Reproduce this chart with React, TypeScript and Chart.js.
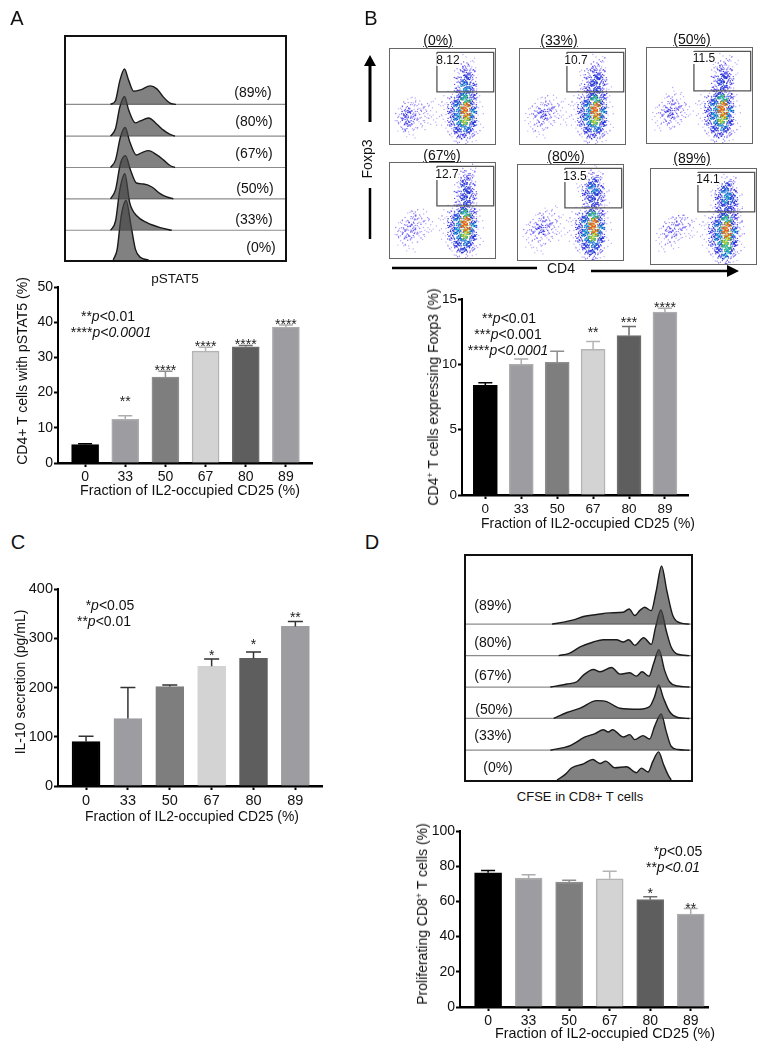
import React, { useEffect, useRef } from "react";
import { Chart, registerables } from "chart.js";

Chart.register(...registerables);

const FONT = '"Liberation Sans", Arial, sans-serif';

// ---------- bar panels ----------
const categories = ["0", "33", "50", "67", "80", "89"];
const barFill = ["#000000", "#9c9ca1", "#7e7e7e", "#d3d3d3", "#5e5e5e", "#9c9ca1"];
const barEdge = ["#000000", "#adadb0", "#8e8e8e", "#b4b4b4", "#6e6e6e", "#adadb0"];

const pstat5Values = [5.2, 12.4, 24.4, 31.8, 33, 38.6];
const pstat5Upper = [5.5, 13.4, 26.1, 32.9, 33.4, 39.2];
const pstat5Stars = ["", "**", "****", "****", "****", "****"];
const pstat5StarAt = [0, 18.6, 27.4, 34, 34.8, 40.5];

const foxp3Values = [8.4, 10, 10.15, 11.15, 12.2, 14];
const foxp3Upper = [8.6, 10.4, 11, 11.75, 12.9, 14.3];
const foxp3Stars = ["", "", "", "**", "***", "****"];
const foxp3StarAt = [0, 0, 0, 12.7, 13.5, 14.6];

const il10Values = [90, 137, 202, 243, 259, 324];
const il10Upper = [101, 200, 205, 258, 272, 334];
const il10Stars = ["", "", "", "*", "*", "**"];
const il10StarAt = [0, 0, 0, 273, 295, 350];

const prolifValues = [76.3, 73.3, 71, 72.8, 61, 52.8];
const prolifUpper = [77.5, 75.2, 72, 77.2, 62.7, 56];
const prolifStars = ["", "", "", "", "*", "**"];
const prolifStarAt = [0, 0, 0, 0, 66.3, 58.3];

// ---------- pSTAT5 histograms (channel, count above the lane's baseline) ----------
const pstatBase0 = 0, pstatBase33 = 90, pstatBase50 = 185, pstatBase67 = 280, pstatBase80 = 375, pstatBase89 = 471;
const pstat89x = [135, 150, 163, 177, 190, 205, 225, 255, 275, 295, 315, 333];
const pstat89h = [0, 12, 72, 107, 72, 40, 44, 56, 47, 22, 4, 0];
const pstat80x = [135, 150, 163, 177, 190, 210, 225, 250, 275, 295, 315, 330];
const pstat80h = [0, 23, 88, 120, 78, 40, 46, 55, 36, 18, 5, 0];
const pstat67x = [135, 150, 165, 179, 193, 213, 230, 250, 275, 295, 315, 330];
const pstat67h = [0, 23, 93, 121, 78, 38, 45, 51, 38, 23, 6, 0];
const pstat50x = [135, 150, 165, 180, 195, 213, 235, 260, 285, 305, 325];
const pstat50h = [0, 28, 108, 131, 88, 48, 45, 36, 16, 6, 0];
const pstat33x = [135, 150, 163, 178, 193, 215, 245, 285, 320];
const pstat33h = [0, 28, 123, 171, 83, 43, 23, 8, 0];
const pstat0x = [143, 155, 167, 182, 197, 210, 225, 250];
const pstat0h = [0, 33, 133, 180, 103, 33, 8, 0];

// ---------- CFSE histograms ----------
const cfseBase0 = 0, cfseBase33 = 90, cfseBase50 = 186, cfseBase67 = 281, cfseBase80 = 376, cfseBase89 = 471;
const cfse89x = [260, 295, 325, 355, 395, 435, 475, 493, 510, 525, 540, 560, 575, 591, 607, 625, 650, 675];
const cfse89h = [0, 6, 13, 23, 29, 34, 36, 46, 26, 41, 51, 41, 101, 176, 101, 26, 3, 0];
const cfse80x = [280, 310, 345, 385, 415, 455, 475, 492, 510, 537, 560, 573, 589, 605, 620, 640, 675];
const cfse80h = [0, 6, 26, 41, 48, 48, 41, 48, 31, 54, 34, 86, 138, 76, 26, 4, 0];
const cfse67x = [255, 305, 335, 355, 385, 405, 440, 465, 495, 515, 532, 553, 567, 583, 600, 615, 640, 675];
const cfse67h = [0, 9, 16, 36, 53, 46, 59, 39, 43, 33, 46, 33, 71, 113, 51, 16, 3, 0];
const cfse50x = [265, 305, 345, 395, 425, 465, 525, 555, 570, 582, 597, 615, 640, 675];
const cfse50h = [0, 18, 31, 54, 51, 31, 28, 36, 66, 101, 61, 21, 3, 0];
const cfse33x = [255, 315, 360, 390, 415, 430, 443, 475, 495, 510, 535, 555, 570, 590, 605, 620, 640, 675];
const cfse33h = [0, 14, 40, 50, 62, 55, 62, 40, 47, 32, 44, 34, 72, 110, 57, 12, 2, 0];
const cfse0x = [275, 300, 320, 355, 383, 405, 422, 450, 485, 515, 530, 550, 565, 582, 597, 610, 620];
const cfse0h = [0, 17, 37, 49, 62, 50, 57, 37, 40, 22, 36, 24, 57, 85, 47, 17, 0];

// ---------- flow plots: density per cell (0 empty .. 9 hottest) ----------
const flow0 = ["0000000000000000", "0000000000011000", "0000000000132000", "0000000000243000", "0000000000353000", "0000000000364000", "0000000001464100", "0011101013574100", "0132221114695100", "0243221114696100", "0243211114685100", "0132110013564100", "0011000002443100", "0000000000221000"];
const flow33 = ["0000000000000000", "0000000000012000", "0000000000132000", "0000000001343000", "0000000001354000", "0000000002453100", "0000000002454100", "0011211013574100", "0122321114695100", "0134321114696100", "0123211114685100", "0122100013564100", "0011000002443100", "0000000000221000"];
const flow50 = ["0000000000000000", "0000000000012000", "0000000000232100", "0000000000243100", "0000000000354000", "0000000000353000", "0001100001443100", "0012210013574100", "0123321114695100", "0134321114696100", "0123210014685100", "0112100013564100", "0000000002443100", "0000000000221000"];
const flow67 = ["0000000000002000", "0000000000132000", "0000000000243000", "0000000000253000", "0000000000354000", "0000000000353000", "0000000001353100", "0012210013574100", "0123221114695100", "0233211114696100", "0233210014685100", "0121100013564100", "0011000002453100", "0000000000221000"];
const flow80 = ["0000000000011000", "0000000000132000", "0000000001353000", "0000000001464100", "0000000001454100", "0000000000353100", "0000110001343100", "0012221013574100", "0123321114695100", "0234321114696100", "0122211014685100", "0112100013564100", "0011000002453000", "0000000000231000"];
const flow89 = ["0000000000000000", "0000000000022000", "0000000000253000", "0000000001464100", "0000000001465100", "0000000001454100", "0000000001454200", "0012321013574200", "0133321114695200", "0133211114696200", "0122100014685100", "0111000013574100", "0000000002463100", "0000000000231000"];
const gateX = [143, 316];
const gateY = [158, 278];

const levelColors = ["", "#b9a8fa", "#8f80f4", "#5a50ee", "#2a2ad8", "#1c40d8", "#18a8c8", "#30c050", "#d8d028", "#e85020"];
const levelDots = [0, 3, 7, 12, 20, 28, 36, 44, 48, 48];
// stipple placement of a cell's dots, hand-placed in cell units
const stippleU = [0.12, 0.71, 0.38, 0.93, 0.55, 0.04, 0.84, 0.27, 0.63, 1.15, 0.2, 0.47, -0.12, 0.78, 0.33, 1.05, 0.9, 0.1, 0.58, 0.3, -0.2, 0.68, 1.22, 0.42];
const stippleV = [0.35, 0.82, 0.12, 0.58, 0.95, 0.28, 0.7, 0.05, 0.45, 0.22, 1.1, 0.66, 0.5, -0.1, 0.9, 0.78, 1.2, -0.18, 0.18, 0.38, 0.2, 1.02, 0.55, 0.74];

function barConfig(o: any) {
  const { values, upper, stars, starAt, yMax, yStep, xMin, xMax, barW, yWidth, xHeight, whisker, cap, starSize } = o;
  const marks = {
    id: "marks",
    afterDatasetsDraw(chart: any) {
      const { ctx, scales } = chart;
      ctx.save();
      values.forEach((v: number, i: number) => {
        const px = scales.x.getPixelForValue(i);
        const y0 = scales.y.getPixelForValue(v);
        const y1 = scales.y.getPixelForValue(upper[i]);
        ctx.strokeStyle = whisker || barEdge[i];
        ctx.lineWidth = 1.5;
        ctx.beginPath();
        ctx.moveTo(px, y0);
        ctx.lineTo(px, y1);
        ctx.moveTo(px - cap, y1);
        ctx.lineTo(px + cap, y1);
        ctx.stroke();
        if (stars[i]) {
          ctx.fillStyle = "#222";
          ctx.font = `${starSize}px ${FONT}`;
          ctx.textAlign = "center";
          ctx.textBaseline = "alphabetic";
          ctx.fillText(stars[i], px, scales.y.getPixelForValue(starAt[i]) + starSize * 0.58);
        }
      });
      ctx.restore();
    },
  };
  return {
    type: "bar",
    data: {
      datasets: [
        {
          data: values.map((v: number, i: number) => ({ x: i, y: v })),
          backgroundColor: barFill,
          borderColor: o.noEdge ? barFill : barEdge,
          borderWidth: 1.5,
          barThickness: barW,
        },
      ],
    },
    plugins: [marks],
    options: {
      animation: false,
      responsive: false,
      layout: { padding: { top: 12, right: 0, left: 0, bottom: 0 } },
      plugins: { legend: { display: false }, tooltip: { enabled: false } },
      scales: {
        x: {
          type: "linear",
          offset: false,
          min: xMin,
          max: xMax,
          afterBuildTicks: (s: any) => {
            s.ticks = categories.map((_, i) => ({ value: i }));
          },
          afterFit: (s: any) => {
            s.height = xHeight;
          },
          border: { display: true, color: "#000", width: 2.5 },
          grid: { display: true, offset: false, drawOnChartArea: false, drawTicks: true, tickLength: 4, tickColor: "#000", tickWidth: 2 },
          ticks: {
            autoSkip: false,
            maxRotation: 0,
            padding: 2,
            color: "#111",
            font: { family: FONT, size: o.tickSize },
            callback: (v: number) => categories[v],
          },
        },
        y: {
          min: 0,
          max: yMax,
          afterFit: (s: any) => {
            s.width = yWidth;
          },
          border: { display: true, color: "#000", width: 2 },
          grid: { display: true, drawOnChartArea: false, drawTicks: true, tickLength: 4, tickColor: "#000", tickWidth: 2 },
          ticks: { stepSize: yStep, padding: 1, color: "#111", font: { family: FONT, size: o.tickSize } },
        },
      },
    },
  };
}

function lane(xs: number[], hs: number[], base: number) {
  return {
    data: xs.map((x, i) => ({ x, y: base + hs[i] })),
    fill: { value: base },
    backgroundColor: "rgba(70,70,70,0.68)",
    borderColor: "#1a1a1a",
    borderWidth: 1.4,
    pointRadius: 0,
    cubicInterpolationMode: "monotone",
  };
}

function baseLine(base: number, xMax: number) {
  return {
    data: [
      { x: 0, y: base },
      { x: xMax, y: base },
    ],
    borderColor: "#8c8c8c",
    borderWidth: 1.2,
    pointRadius: 0,
    fill: false,
  };
}

function histConfig(lanes: any[], bases: number[], xMax: number, yMax: number) {
  return {
    type: "line",
    data: { datasets: [...lanes, ...bases.map((b) => baseLine(b, xMax))] },
    options: {
      animation: false,
      responsive: false,
      layout: { padding: 0, autoPadding: false },
      plugins: { legend: { display: false }, tooltip: { enabled: false } },
      scales: {
        x: { type: "linear", display: false, min: 0, max: xMax },
        y: { type: "linear", display: false, min: 0, max: yMax },
      },
    },
  };
}

function flowConfig(grid: string[]) {
  const byLevel: any[][] = levelColors.map(() => []);
  grid.forEach((row, r) => {
    row.split("").forEach((ch, c) => {
      const d = Number(ch);
      for (let k = 0; k < levelDots[d]; k++) {
        const j = (k + c * 7 + r * 11) % stippleU.length;
        const second = k >= stippleU.length;
        const flip = ((c + r) % 2 === 1) !== second;
        const u = flip ? 1 - stippleU[j] : stippleU[j];
        const v = second ? 1 - stippleV[j] : stippleV[j];
        const lvl = d > 1 && k % 2 === 1 ? d - 1 : d;
        byLevel[lvl].push({ x: (c + u) * 20, y: 288 - (r + v) * 20.57 });
      }
    });
  });
  const datasets: any[] = [
    {
      type: "line",
      data: [
        { x: gateX[0], y: gateY[1] },
        { x: gateX[1], y: gateY[1] },
        { x: gateX[1], y: gateY[0] },
        { x: gateX[0], y: gateY[0] },
        { x: gateX[0], y: gateY[1] },
      ],
      borderColor: "#555",
      borderWidth: 1.3,
      pointRadius: 0,
      fill: false,
    },
  ];
  for (let d = 9; d >= 1; d--) {
    datasets.push({ data: byLevel[d], pointRadius: 0.7, pointBorderWidth: 0, pointBackgroundColor: levelColors[d], showLine: false });
  }
  return {
    type: "scatter",
    data: { datasets },
    options: {
      animation: false,
      responsive: false,
      layout: { padding: 0, autoPadding: false },
      plugins: { legend: { display: false }, tooltip: { enabled: false } },
      scales: {
        x: { type: "linear", display: false, min: 0, max: 320 },
        y: { type: "linear", display: false, min: 0, max: 288 },
      },
    },
  };
}

function Plot({ config, x, y, w, h, border }: any) {
  const ref = useRef<HTMLCanvasElement | null>(null);
  useEffect(() => {
    const chart = new Chart(ref.current as any, config);
    return () => chart.destroy();
  }, []);
  return (
    <div style={{ position: "absolute", left: x, top: y, width: w, height: h, boxSizing: "border-box", border: border || "none" }}>
      <canvas ref={ref} width={border ? w - 2 * parseFloat(border) : w} height={border ? h - 2 * parseFloat(border) : h} style={{ display: "block" }} />
    </div>
  );
}

function T({ x, y, size = 14, rot, children, bg, color = "#111" }: any) {
  return (
    <div
      style={{
        position: "absolute",
        left: x,
        top: y,
        transform: `translate(-50%,-50%)${rot ? ` rotate(${rot}deg)` : ""}`,
        fontSize: size,
        lineHeight: 1,
        whiteSpace: "pre",
        color,
        background: bg,
        zIndex: 5,
      }}
    >
      {children}
    </div>
  );
}

const P = ({ c }: any) => <i>{c}</i>;
const XTITLE = "Fraction of IL2-occupied CD25 (%)";

const Sup = ({ c }: any) => <sup style={{ fontSize: "0.65em", lineHeight: 0, verticalAlign: "0.55em" }}>{c}</sup>;

export default function App() {
  const pstatLanes = [
    lane(pstat89x, pstat89h, pstatBase89),
    lane(pstat80x, pstat80h, pstatBase80),
    lane(pstat67x, pstat67h, pstatBase67),
    lane(pstat50x, pstat50h, pstatBase50),
    lane(pstat33x, pstat33h, pstatBase33),
    lane(pstat0x, pstat0h, pstatBase0),
  ];
  const cfseLanes = [
    lane(cfse89x, cfse89h, cfseBase89),
    lane(cfse80x, cfse80h, cfseBase80),
    lane(cfse67x, cfse67h, cfseBase67),
    lane(cfse50x, cfse50h, cfseBase50),
    lane(cfse33x, cfse33h, cfseBase33),
    lane(cfse0x, cfse0h, cfseBase0),
  ];
  return (
    <div style={{ position: "absolute", left: 0, top: 0, width: 768, height: 1050, background: "#fff", fontFamily: FONT, overflow: "hidden" }}>
      {/* Panel letters */}
      <T x={17} y={18} size={20}>A</T>
      <T x={371} y={18} size={20}>B</T>
      <T x={18} y={542} size={20}>C</T>
      <T x={372} y={542} size={20}>D</T>

      {/* A histogram */}
      <Plot x={64} y={35} w={223} h={227} border="2px solid #111" config={histConfig(pstatLanes, [pstatBase33, pstatBase50, pstatBase67, pstatBase80, pstatBase89], 663, 675)} />
      <T x={253} y={92}>(89%)</T>
      <T x={254} y={121}>(80%)</T>
      <T x={254} y={153}>(67%)</T>
      <T x={255} y={188}>(50%)</T>
      <T x={254} y={219}>(33%)</T>
      <T x={261} y={247}>(0%)</T>
      <T x={175} y={279} size={13.5}>pSTAT5</T>

      {/* A bars */}
      <Plot x={18} y={275} w={295} h={214} config={barConfig({ values: pstat5Values, upper: pstat5Upper, stars: pstat5Stars, starAt: pstat5StarAt, yMax: 50, yStep: 10, xMin: -0.675, xMax: 5.675, barW: 27, yWidth: 40, xHeight: 26, cap: 7, starSize: 14, tickSize: 14 })} />
      <T x={22} y={371} rot={-90}>CD4+ T cells with pSTAT5 (%)</T>
      <T x={190} y={490} size={14.3}>{XTITLE}</T>
      <T x={108} y={316}>**<P c="p" />&lt;0.01</T>
      <T x={111} y={332}>****<P c="p<0.0001" /></T>

      {/* B flow plots */}
      <Plot x={389} y={48} w={107} h={97} border="1px solid #666" config={flowConfig(flow0)} />
      <Plot x={519} y={48} w={107} h={97} border="1px solid #666" config={flowConfig(flow33)} />
      <Plot x={646} y={47} w={107} h={97} border="1px solid #666" config={flowConfig(flow50)} />
      <Plot x={389} y={162} w={107} h={97} border="1px solid #666" config={flowConfig(flow67)} />
      <Plot x={517} y={164} w={107} h={97} border="1px solid #666" config={flowConfig(flow80)} />
      <Plot x={650} y={168} w={107} h={97} border="1px solid #666" config={flowConfig(flow89)} />
      <T x={438} y={40}><u>(0%)</u></T>
      <T x={559} y={40}><u>(33%)</u></T>
      <T x={692} y={39}><u>(50%)</u></T>
      <T x={442} y={155}><u>(67%)</u></T>
      <T x={566} y={156}><u>(80%)</u></T>
      <T x={692} y={158}><u>(89%)</u></T>
      <T x={448} y={60} size={12} bg="#fff">8.12</T>
      <T x={576} y={60} size={12} bg="#fff">10.7</T>
      <T x={704} y={58} size={12} bg="#fff">11.5</T>
      <T x={447} y={174} size={12} bg="#fff">12.7</T>
      <T x={575} y={176} size={12} bg="#fff">13.5</T>
      <T x={708} y={179} size={12} bg="#fff">14.1</T>
      <T x={367} y={159} rot={-90}>Foxp3</T>
      <T x={561} y={268}>CD4</T>
      <svg width={768} height={300} style={{ position: "absolute", left: 0, top: 0, zIndex: 4 }}>
        <line x1={370} y1={122} x2={370} y2={62} stroke="#000" strokeWidth={3} />
        <polygon points="370,55 364,66 376,66" fill="#000" />
        <line x1={370} y1={188} x2={370} y2={239} stroke="#000" strokeWidth={2.5} />
        <line x1={392} y1={268} x2={537} y2={268} stroke="#000" strokeWidth={2.5} />
        <line x1={591} y1={271} x2={730} y2={271} stroke="#000" strokeWidth={2.5} />
        <polygon points="739,271 727,265 727,277" fill="#000" />
      </svg>

      {/* B bars */}
      <Plot x={422} y={287} w={267} h={234} config={barConfig({ values: foxp3Values, upper: foxp3Upper, stars: foxp3Stars, starAt: foxp3StarAt, yMax: 15, yStep: 5, xMin: -0.65, xMax: 5.67, barW: 24, yWidth: 40, xHeight: 26, cap: 7, starSize: 14, tickSize: 13.5 })} />
      <T x={433} y={397} rot={-90}>CD4<Sup c="+" /> T cells expressing Foxp3 (%)</T>
      <T x={588} y={524} size={13.9}>{XTITLE}</T>
      <T x={509} y={318}>**<P c="p" />&lt;0.01</T>
      <T x={508} y={334}>***<P c="p" />&lt;0.001</T>
      <T x={508} y={350}>****<P c="p<0.0001" /></T>

      {/* C bars */}
      <Plot x={18} y={577} w={305} h={235} config={barConfig({ values: il10Values, upper: il10Upper, stars: il10Stars, starAt: il10StarAt, yMax: 400, yStep: 100, xMin: -0.67, xMax: 5.66, barW: 28, yWidth: 40, xHeight: 26, cap: 7.5, starSize: 14, tickSize: 14.5, whisker: "#333", noEdge: true })} />
      <T x={20} y={682} rot={-90}>IL-10 secretion (pg/mL)</T>
      <T x={192} y={817} size={13.9}>{XTITLE}</T>
      <T x={110} y={605}>*<P c="p" />&lt;0.05</T>
      <T x={104} y={621}>**<P c="p" />&lt;0.01</T>

      {/* D histogram */}
      <Plot x={464} y={554} w={229} h={228} border="2px solid #111" config={histConfig(cfseLanes, [cfseBase33, cfseBase50, cfseBase67, cfseBase80, cfseBase89], 680, 677)} />
      <T x={493} y={605}>(89%)</T>
      <T x={493} y={642}>(80%)</T>
      <T x={493} y={675}>(67%)</T>
      <T x={494} y={709}>(50%)</T>
      <T x={493} y={735}>(33%)</T>
      <T x={498} y={767}>(0%)</T>
      <T x={580} y={796} size={13}>CFSE in CD8+ T cells</T>

      {/* D bars */}
      <Plot x={420} y={819} w={289} h={214} config={barConfig({ values: prolifValues, upper: prolifUpper, stars: prolifStars, starAt: prolifStarAt, yMax: 100, yStep: 20, xMin: -0.693, xMax: 5.45, barW: 27, yWidth: 40, xHeight: 26, cap: 7, starSize: 14, tickSize: 14 })} />
      <T x={422} y={914} rot={-90}>Proliferating CD8<Sup c="+" /> T cells (%)</T>
      <T x={605} y={1033} size={14.3}>{XTITLE}</T>
      <T x={678} y={851}>*<P c="p" />&lt;0.05</T>
      <T x={673} y={867}>**<P c="p<0.01" /></T>
    </div>
  );
}
